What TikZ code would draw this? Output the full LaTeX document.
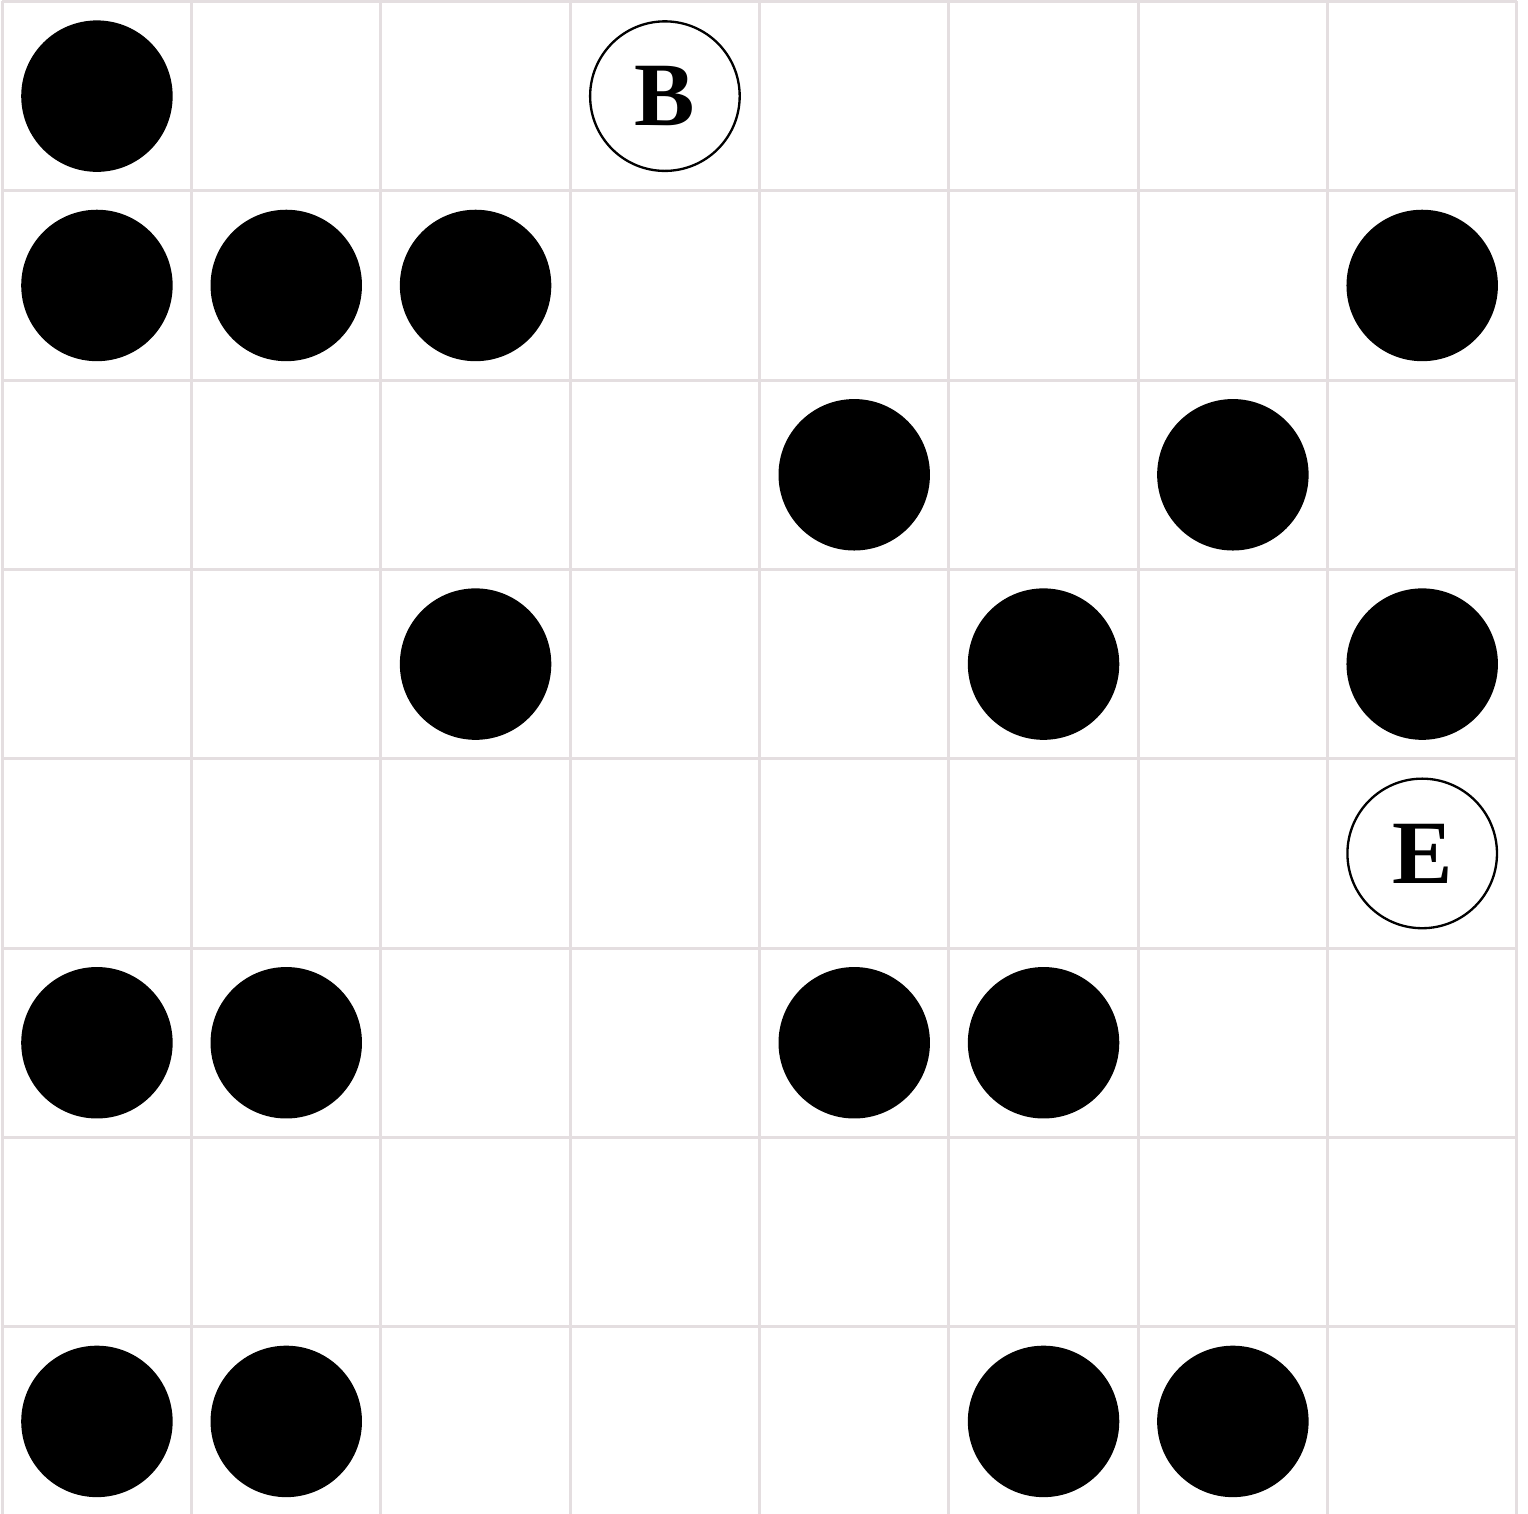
\documentclass[tikz,border=0pt]{standalone}
\usepackage{fontspec}
\usepackage{tikz}
\usetikzlibrary{positioning}
\newfontfamily\labelfont{Liberation Serif}
\definecolor{gridgray}{RGB}{228,222,224}

\begin{document}
\begin{tikzpicture}[
  cell/.style={draw=gridgray, line width=0.45pt},
  stone/.style={circle, fill=black, minimum size=8mm, inner sep=0pt},
  endpt/.style={circle, draw, line width=0.35pt, minimum size=7.9mm, inner sep=0pt,
    font=\labelfont\bfseries\fontsize{13.6}{16}\selectfont}
]
\useasboundingbox (-0.012,0.015) rectangle (8.059,8.008);
\draw[cell] (0,0) grid (8,8);

% stones, given as row/column (row 0 on top)
\foreach \r/\c in {0/0, 1/0, 1/1, 1/2, 1/7, 2/4, 2/6, 3/2, 3/5, 3/7,
                   5/0, 5/1, 5/4, 5/5, 7/0, 7/1, 7/5, 7/6}
  \node[stone] (s-\r-\c) at (\c+0.5, 7.5-\r) {};

\node[endpt] (B) at (3.5,7.5) {B};
\node[endpt] (E) at (7.5,3.5) {E};
\end{tikzpicture}
\end{document}
